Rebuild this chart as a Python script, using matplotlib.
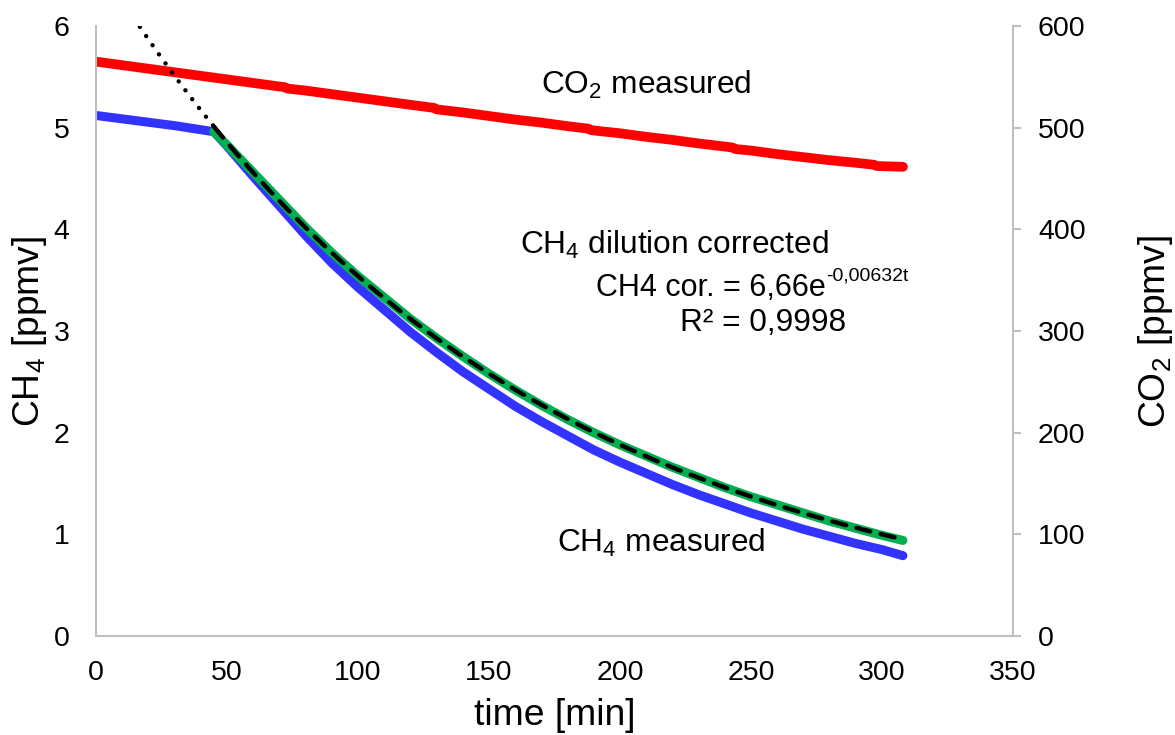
import numpy as np
import matplotlib
matplotlib.use("Agg")
import matplotlib.pyplot as plt

plt.rcParams["font.family"] = ["Liberation Sans", "DejaVu Sans"]
plt.rcParams["mathtext.fontset"] = "custom"
plt.rcParams["mathtext.rm"] = "Liberation Sans"
plt.rcParams["mathtext.it"] = "Liberation Sans:italic"

# CO2 measured [ppmv] (right axis)
co2_time = [0, 10, 20, 30, 40, 50, 60, 70, 72, 73, 80, 90, 100, 110, 120, 129, 130,
            140, 150, 160, 170, 180, 188, 189, 200, 210, 220, 230, 243, 244, 250,
            260, 270, 280, 290, 297, 298, 308]
co2_ppmv = [565, 561.5, 558, 554.5, 551, 547.5, 544, 540.5, 540, 538.5, 536.5, 533,
            529.5, 526, 522.5, 519.5, 518, 515, 511.5, 508, 505, 501.5, 499, 497.5,
            494.5, 491, 488, 484.5, 480.5, 479, 477.5, 474, 471, 468, 465.5, 463.5,
            462.3, 461.5]

# CH4 measured [ppmv]
ch4_time = [0, 15, 30, 45, 50, 60, 70, 80, 90, 100, 110, 120, 130, 140, 150,
            160, 170, 180, 190, 200, 210, 220, 230, 240, 250, 260, 270, 280, 290,
            300, 308]
ch4_meas = [5.12, 5.07, 5.02, 4.96, 4.82, 4.52, 4.23, 3.94, 3.67, 3.43,
            3.21, 2.99, 2.79, 2.60, 2.43, 2.26, 2.11, 1.97, 1.83, 1.71, 1.60, 1.49,
            1.39, 1.30, 1.21, 1.13, 1.05, 0.98, 0.91, 0.85, 0.79]

# CH4 dilution corrected [ppmv]
cor_time = [45, 50, 60, 70, 80, 90, 100, 110, 120, 130, 140, 150, 160, 170, 180,
            190, 200, 210, 220, 230, 240, 250, 260, 270, 280, 290, 300, 308]
ch4_cor = [4.96, 4.83, 4.56, 4.29, 4.02, 3.77, 3.54, 3.33, 3.12, 2.93, 2.75, 2.58,
           2.42, 2.27, 2.13, 2.00, 1.88, 1.77, 1.66, 1.56, 1.46, 1.37, 1.29, 1.21,
           1.13, 1.06, 0.99, 0.94]

# exponential trendline as stated on the chart: 6,66 e^(-0,00632 t)
fit_a = 6.66
fit_k = -0.00632
fit_start, fit_end = 45, 308

grey = "#bfbfbf"

fig = plt.figure(figsize=(11.75, 7.35), dpi=100)
ax = fig.add_axes([0.0817, 0.1347, 0.7804, 0.8299])
ax2 = ax.twinx()
ax.set_zorder(ax2.get_zorder() + 1)
ax.patch.set_visible(False)

ax2.plot(co2_time, co2_ppmv, color="#ff0000", lw=7, solid_capstyle="round")

ax.plot(ch4_time, ch4_meas, color="#3333ff", lw=6.5, solid_capstyle="round")
ax.plot(cor_time, ch4_cor, color="#00b050", lw=6.5, solid_capstyle="round")

t_back = np.linspace(0, fit_start, 100)
t_fit = np.linspace(fit_start, fit_end, 300)
ax.plot(t_back, fit_a * np.exp(fit_k * t_back), color="black", lw=3.2,
        dashes=(0.01, 2.5), dash_capstyle="round")
ax.plot(t_fit, fit_a * np.exp(fit_k * t_fit), color="black", lw=3.2,
        dashes=(3.2, 2.4), dash_capstyle="round")

ax.set_xlim(0, 350)
ax.set_ylim(0, 6)
ax2.set_ylim(0, 600)
ax.set_xticks(range(0, 351, 50))
ax.set_yticks(range(0, 7))
ax2.set_yticks(range(0, 601, 100))

for s in ["top", "right"]:
    ax.spines[s].set_visible(False)
for s in ["top", "left", "bottom"]:
    ax2.spines[s].set_visible(False)
ax.spines["left"].set_color(grey)
ax.spines["bottom"].set_color(grey)
ax2.spines["right"].set_color(grey)
for sp in [ax.spines["left"], ax.spines["bottom"], ax2.spines["right"]]:
    sp.set_linewidth(1.5)

ax.tick_params(axis="x", length=0, pad=17, labelsize=20.5)
ax.tick_params(axis="y", length=0, pad=19, labelsize=20.5)
ax2.tick_params(axis="y", direction="out", length=6, width=1.5, color=grey,
                pad=12, labelsize=20.5)

ax.set_xlabel("time [min]", fontsize=26.8, va="center")
ax.xaxis.set_label_coords(0.5, -0.13)
ax.set_ylabel(r"CH$_\mathregular{4}$ [ppmv]", fontsize=26.8, va="center")
ax.yaxis.set_label_coords(-0.072, 0.5)
ax2.set_ylabel(r"CO$_\mathregular{2}$ [ppmv]", fontsize=26.8, va="center",
               rotation=90)
ax2.yaxis.set_label_coords(1.155, 0.5)

ax.text(170, 5.42, r"CO$_\mathregular{2}$ measured", fontsize=22.8, va="center")
ax.text(162, 3.85, r"CH$_\mathregular{4}$ dilution corrected", fontsize=22.8, va="center")
eq = ax.text(191, 3.42, "CH4 cor. = 6,66e", fontsize=22, va="center")
ax.annotate("-0,00632t", xy=(1, 0.62), xycoords=eq, fontsize=14,
            ha="left", va="bottom")
ax.text(223, 3.08, "R² = 0,9998", fontsize=22.8, va="center")
ax.text(176, 0.92, r"CH$_\mathregular{4}$ measured", fontsize=22.8, va="center")

fig.savefig("out.png", dpi=100)
